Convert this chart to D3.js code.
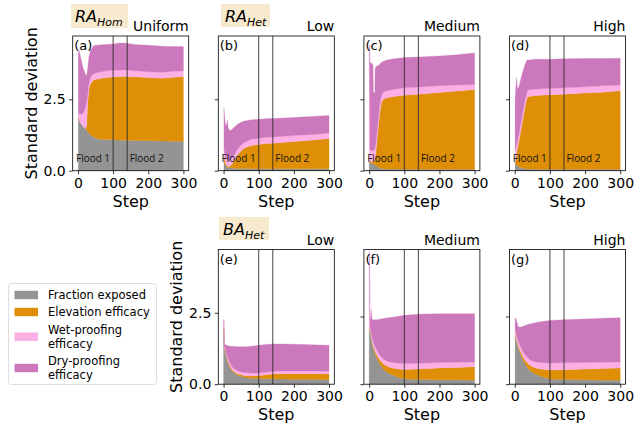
<!DOCTYPE html>
<html>
<head>
<meta charset="utf-8">
<script src="https://cdn.jsdelivr.net/npm/d3@7"></script>
<style>
  html, body { margin: 0; padding: 0; background: #fff; }
  svg { display: block; font-family: "DejaVu Sans", sans-serif; }
</style>
</head>
<body>
<svg id="chart" width="635" height="428"></svg>
<script>
// ---- Data: per-panel time steps and the four stacked contributions ----
const seriesKeys = ["exposed", "elevation", "wet", "dry"];
const seriesNames = ["Fraction exposed", "Elevation efficacy", "Wet-proofing\nefficacy", "Dry-proofing\nefficacy"];
const xTicks = [0, 100, 200, 300];
const yTicks = [0, 2.5];
const floodSteps = [100, 140];

// (a) RA_Hom, Uniform
const stepsA     = [1, 3, 6, 10, 14, 18, 22, 25, 27, 31, 36, 45, 60, 80, 100, 120, 140, 160, 200, 240, 270, 300];
const exposedA   = [1.85, 1.78, 1.70, 1.62, 1.56, 1.50, 1.45, 1.42, 1.38, 1.32, 1.25, 1.18, 1.10, 1.09, 1.08, 1.07, 1.07, 1.06, 1.05, 1.04, 1.03, 1.03];
const elevationA = [0.00, 0.00, 0.00, 0.00, 0.00, 0.00, 0.02, 0.18, 0.87, 1.53, 1.80, 2.00, 2.12, 2.17, 2.20, 2.23, 2.23, 2.23, 2.21, 2.20, 2.24, 2.26];
const wetA       = [0.15, 0.22, 0.28, 0.36, 0.44, 0.60, 0.78, 0.82, 0.35, 0.20, 0.23, 0.22, 0.23, 0.24, 0.24, 0.23, 0.23, 0.21, 0.20, 0.21, 0.21, 0.21];
const dryA       = [2.10, 2.23, 2.07, 1.87, 1.62, 1.38, 1.10, 0.93, 0.92, 0.92, 0.94, 0.98, 0.95, 0.92, 0.92, 0.94, 0.93, 0.92, 0.93, 0.91, 0.87, 0.85];

// (b) RA_Het, Low
const stepsB     = [1, 3, 5, 8, 11, 13, 17, 22, 30, 40, 50, 60, 80, 100, 120, 140, 160, 200, 250, 300];
const exposedB   = [0.30, 0.25, 0.20, 0.15, 0.12, 0.11, 0.10, 0.10, 0.09, 0.08, 0.08, 0.08, 0.07, 0.07, 0.07, 0.07, 0.07, 0.07, 0.07, 0.07];
const elevationB = [0.25, 0.15, 0.10, 0.05, 0.04, 0.04, 0.05, 0.10, 0.26, 0.47, 0.62, 0.72, 0.81, 0.85, 0.88, 0.89, 0.91, 0.95, 1.00, 1.06];
const wetB       = [0.25, 0.25, 0.20, 0.20, 0.20, 0.20, 0.20, 0.22, 0.20, 0.20, 0.20, 0.20, 0.22, 0.22, 0.22, 0.22, 0.22, 0.21, 0.20, 0.19];
const dryB       = [1.40, 1.25, 1.12, 1.20, 1.42, 1.15, 1.07, 1.00, 0.97, 0.88, 0.80, 0.74, 0.68, 0.66, 0.65, 0.65, 0.64, 0.63, 0.63, 0.61];

// (c) RA_Het, Medium
const stepsC     = [0, 1, 2, 5, 8, 11, 12, 16, 17, 20, 25, 30, 35, 40, 50, 70, 100, 140, 200, 250, 300];
const exposedC   = [0.30, 0.30, 0.30, 0.28, 0.26, 0.24, 0.23, 0.20, 0.19, 0.17, 0.13, 0.10, 0.08, 0.07, 0.06, 0.06, 0.05, 0.05, 0.05, 0.05, 0.05];
const elevationC = [0.02, 0.02, 0.05, 0.05, 0.06, 0.07, 0.07, 0.20, 0.26, 0.58, 1.27, 1.90, 2.32, 2.43, 2.49, 2.54, 2.59, 2.63, 2.69, 2.74, 2.79];
const wetC       = [4.08, 4.08, 0.40, 0.39, 0.38, 0.39, 0.40, 0.35, 0.35, 0.30, 0.30, 0.30, 0.25, 0.25, 0.25, 0.25, 0.26, 0.25, 0.23, 0.21, 0.18];
const dryC       = [0.00, 0.00, 3.05, 3.06, 3.05, 3.00, 2.05, 1.97, 2.80, 2.60, 1.98, 1.42, 1.15, 1.07, 1.08, 1.07, 1.06, 1.05, 1.05, 1.06, 1.10];

// (d) RA_Het, High
const stepsD     = [1, 3, 5, 8, 12, 15, 20, 25, 30, 35, 40, 60, 100, 140, 200, 250, 300];
const exposedD   = [0.25, 0.22, 0.20, 0.17, 0.14, 0.12, 0.10, 0.08, 0.07, 0.06, 0.06, 0.05, 0.05, 0.05, 0.05, 0.05, 0.05];
const elevationD = [0.05, 0.23, 0.40, 0.63, 0.91, 1.13, 1.50, 1.87, 2.23, 2.49, 2.54, 2.58, 2.61, 2.63, 2.67, 2.70, 2.75];
const wetD       = [0.40, 0.35, 0.30, 0.25, 0.25, 0.25, 0.25, 0.25, 0.20, 0.23, 0.23, 0.23, 0.22, 0.22, 0.22, 0.22, 0.20];
const dryD       = [1.80, 2.10, 2.35, 1.80, 1.65, 1.60, 1.50, 1.35, 1.25, 1.10, 1.05, 1.04, 1.02, 1.02, 0.99, 0.96, 0.94];

// (e) BA_Het, Low
const stepsE     = [0, 1, 2, 4, 6, 9, 12, 16, 20, 25, 30, 40, 50, 60, 80, 100, 120, 140, 160, 200, 250, 300];
const exposedE   = [1.90, 1.90, 1.25, 1.15, 1.05, 0.92, 0.78, 0.65, 0.55, 0.46, 0.40, 0.32, 0.27, 0.24, 0.21, 0.20, 0.19, 0.19, 0.18, 0.17, 0.17, 0.16];
const elevationE = [0.05, 0.05, 0.03, 0.03, 0.03, 0.03, 0.04, 0.05, 0.05, 0.04, 0.04, 0.05, 0.06, 0.06, 0.08, 0.10, 0.14, 0.17, 0.19, 0.20, 0.20, 0.20];
const wetE       = [0.30, 0.30, 0.08, 0.09, 0.09, 0.10, 0.10, 0.10, 0.10, 0.10, 0.10, 0.10, 0.10, 0.11, 0.10, 0.09, 0.09, 0.09, 0.09, 0.09, 0.09, 0.09];
const dryE       = [0.00, 0.00, 0.06, 0.13, 0.21, 0.31, 0.43, 0.54, 0.63, 0.73, 0.78, 0.84, 0.88, 0.90, 0.94, 0.97, 0.97, 0.96, 0.95, 0.94, 0.92, 0.91];

// (f) BA_Het, Medium
const stepsF     = [0, 1, 2, 4, 6, 8, 11, 15, 21, 30, 40, 50, 60, 80, 100, 140, 200, 250, 300];
const exposedF   = [2.00, 2.00, 1.95, 1.85, 1.70, 1.55, 1.36, 1.18, 0.99, 0.75, 0.56, 0.45, 0.38, 0.27, 0.20, 0.17, 0.16, 0.16, 0.15];
const elevationF = [0.05, 0.05, 0.05, 0.05, 0.06, 0.05, 0.07, 0.09, 0.11, 0.15, 0.19, 0.22, 0.24, 0.29, 0.34, 0.39, 0.44, 0.46, 0.49];
const wetF       = [2.83, 2.83, 0.10, 0.10, 0.12, 0.15, 0.17, 0.18, 0.18, 0.17, 0.18, 0.19, 0.20, 0.22, 0.22, 0.21, 0.20, 0.19, 0.18];
const dryF       = [0.00, 0.00, 0.35, 0.42, 0.87, 0.65, 0.78, 0.93, 1.10, 1.33, 1.49, 1.58, 1.64, 1.72, 1.78, 1.81, 1.80, 1.79, 1.78];

// (g) BA_Het, High
const stepsG     = [1, 3, 6, 10, 15, 24, 33, 43, 55, 71, 100, 140, 200, 250, 300];
const exposedG   = [1.80, 1.70, 1.55, 1.35, 1.15, 0.87, 0.67, 0.50, 0.40, 0.30, 0.19, 0.17, 0.16, 0.15, 0.15];
const elevationG = [0.05, 0.05, 0.05, 0.07, 0.09, 0.12, 0.15, 0.20, 0.22, 0.26, 0.33, 0.36, 0.40, 0.43, 0.45];
const wetG       = [0.15, 0.15, 0.16, 0.16, 0.18, 0.19, 0.20, 0.20, 0.21, 0.24, 0.26, 0.26, 0.24, 0.23, 0.22];
const dryG       = [0.45, 0.52, 0.54, 0.54, 0.68, 0.96, 1.16, 1.32, 1.43, 1.50, 1.57, 1.59, 1.61, 1.62, 1.63];

// ---- Styling and layout ----
const colors = { exposed: "#949494", elevation: "#de8f05", wet: "#fbafe4", dry: "#cc78bc" };
const colLeft = [72.7, 218.3, 363.9, 509.5];
const rowTop = [36, 249.5];
const axW = 116, axH = 134.7;
const font = "DejaVu Sans, sans-serif";

const panels = [
  { tag: "(a)", title: "Uniform", col: 0, row: 0, ymax: 4.716, yLabels: true, flood: true, steps: stepsA, vals: [exposedA, elevationA, wetA, dryA] },
  { tag: "(b)", title: "Low",     col: 1, row: 0, ymax: 4.716, yLabels: false, flood: true, steps: stepsB, vals: [exposedB, elevationB, wetB, dryB] },
  { tag: "(c)", title: "Medium",  col: 2, row: 0, ymax: 4.716, yLabels: false, flood: true, steps: stepsC, vals: [exposedC, elevationC, wetC, dryC] },
  { tag: "(d)", title: "High",    col: 3, row: 0, ymax: 4.716, yLabels: false, flood: true, steps: stepsD, vals: [exposedD, elevationD, wetD, dryD] },
  { tag: "(e)", title: "Low",     col: 1, row: 1, ymax: 4.716, yLabels: true, flood: false, steps: stepsE, vals: [exposedE, elevationE, wetE, dryE] },
  { tag: "(f)", title: "Medium",  col: 2, row: 1, ymax: 4.97, yLabels: false, flood: false, steps: stepsF, vals: [exposedF, elevationF, wetF, dryF] },
  { tag: "(g)", title: "High",    col: 3, row: 1, ymax: 4.97, yLabels: false, flood: false, steps: stepsG, vals: [exposedG, elevationG, wetG, dryG] }
];

const svg = d3.select("#chart");
const stack = d3.stack().keys(seriesKeys);

panels.forEach((p, i) => {
  const left = colLeft[p.col], top = rowTop[p.row];
  const x = d3.scaleLinear().domain([-15, 315]).range([left, left + axW]);
  const y = d3.scaleLinear().domain([0, p.ymax]).range([top + axH, top]);

  const rows = p.steps.map((s, k) => {
    const r = { step: s };
    seriesKeys.forEach((key, j) => { r[key] = p.vals[j][k]; });
    return r;
  });
  const layers = stack(rows);

  const clipId = "clip" + i;
  svg.append("clipPath").attr("id", clipId)
    .append("rect").attr("x", left).attr("y", top).attr("width", axW).attr("height", axH);

  const area = d3.area()
    .x(d => x(d.data.step))
    .y0(d => y(d[0]))
    .y1(d => y(d[1]));

  const g = svg.append("g");
  g.append("g").attr("clip-path", `url(#${clipId})`)
    .selectAll("path").data(layers).join("path")
    .attr("d", area)
    .attr("fill", d => colors[d.key])
    .attr("stroke", d => colors[d.key])
    .attr("stroke-width", 0.3);

  // flood markers
  g.selectAll("line.flood").data(floodSteps).join("line")
    .attr("class", "flood")
    .attr("x1", d => x(d)).attr("x2", d => x(d))
    .attr("y1", top).attr("y2", top + axH)
    .attr("stroke", "#262626").attr("stroke-width", 1).attr("stroke-opacity", 0.85);

  if (p.flood) {
    g.append("text").text("Flood 1")
      .attr("x", left + 3.3).attr("y", top + axH - 9)
      .attr("font-family", "Open Sans, sans-serif").attr("font-size", 10.5)
      .attr("textLength", 34).attr("lengthAdjust", "spacingAndGlyphs").attr("fill", "#111");
    g.append("text").text("Flood 2")
      .attr("x", x(140) + 2.5).attr("y", top + axH - 9)
      .attr("font-family", "Open Sans, sans-serif").attr("font-size", 10.5)
      .attr("textLength", 34).attr("lengthAdjust", "spacingAndGlyphs").attr("fill", "#111");
  }

  // axes
  const xa = g.append("g").attr("transform", `translate(0,${top + axH})`)
    .call(d3.axisBottom(x).tickValues(xTicks).tickSize(3.5).tickPadding(3.5).tickFormat(d3.format("d")));
  xa.select(".domain").remove();
  xa.selectAll("line").attr("stroke", "#000").attr("stroke-width", 0.8);
  xa.selectAll("text").attr("font-size", 14).attr("font-family", font).attr("fill", "#000");

  const ya = g.append("g").attr("transform", `translate(${left},0)`)
    .call(d3.axisLeft(y).tickValues(yTicks).tickSize(3.5).tickPadding(3.5)
      .tickFormat(p.yLabels ? d3.format(".1f") : () => ""));
  ya.select(".domain").remove();
  ya.selectAll("line").attr("stroke", "#000").attr("stroke-width", 0.8);
  ya.selectAll("text").attr("font-size", 14).attr("font-family", font).attr("fill", "#000");

  // frame
  g.append("rect").attr("x", left).attr("y", top).attr("width", axW).attr("height", axH)
    .attr("fill", "none").attr("stroke", "#000").attr("stroke-width", 0.8);

  // panel tag and title
  g.append("text").text(p.tag).attr("x", left + 1.5).attr("y", top + 14)
    .attr("font-size", 13).attr("font-family", font).attr("fill", "#000");
  g.append("text").text(p.title).attr("x", left + axW).attr("y", top - 5)
    .attr("text-anchor", "end").attr("font-size", 14).attr("font-family", font).attr("fill", "#000");

  // x label
  g.append("text").text("Step").attr("x", left + axW / 2).attr("y", top + axH + 36)
    .attr("text-anchor", "middle").attr("font-size", 16).attr("font-family", font).attr("fill", "#000");

  if (p.yLabels) {
    g.append("text").text("Standard deviation")
      .attr("transform", `translate(${left - 41.5},${top + axH / 2}) rotate(-90)`)
      .attr("text-anchor", "middle").attr("dominant-baseline", "central")
      .attr("font-size", 16).attr("font-family", font).attr("fill", "#000");
  }
});

// ---- Row labels in shaded boxes ----
const rowLabels = [
  { main: "RA", sub: "Hom", x: 71, y: 4, w: 57, h: 24 },
  { main: "RA", sub: "Het", x: 221, y: 4, w: 49, h: 23 },
  { main: "BA", sub: "Het", x: 219, y: 217, w: 50, h: 23 }
];
rowLabels.forEach(r => {
  svg.append("rect").attr("x", r.x).attr("y", r.y).attr("width", r.w).attr("height", r.h)
    .attr("fill", "#f5deb3").attr("fill-opacity", 0.65);
  const t = svg.append("text").attr("x", r.x + 4).attr("y", r.y + 17.5)
    .attr("font-family", font).attr("font-style", "italic").attr("fill", "#000");
  t.append("tspan").text(r.main).attr("font-size", 16);
  t.append("tspan").text(r.sub).attr("font-size", 11).attr("dy", 4);
});

// ---- Legend ----
const lg = svg.append("g");
lg.append("rect").attr("x", 8.5).attr("y", 283.5).attr("width", 148).attr("height", 101)
  .attr("rx", 3).attr("fill", "#fff").attr("stroke", "#d6d6d6").attr("stroke-width", 0.8);
const swatchY = [295, 312, 336.7, 368];
seriesKeys.forEach((key, i) => {
  lg.append("rect").attr("x", 14.5).attr("y", swatchY[i] - 4.2).attr("width", 23.5).attr("height", 8.4)
    .attr("fill", colors[key]);
  const lines = seriesNames[i].split("\n");
  const startY = swatchY[i] + 4 - (lines.length - 1) * 6.8;
  lines.forEach((ln, j) => {
    lg.append("text").text(ln).attr("x", 48).attr("y", startY + j * 13.6)
      .attr("font-size", 11.5).attr("font-family", font).attr("fill", "#000");
  });
});
</script>
</body>
</html>
